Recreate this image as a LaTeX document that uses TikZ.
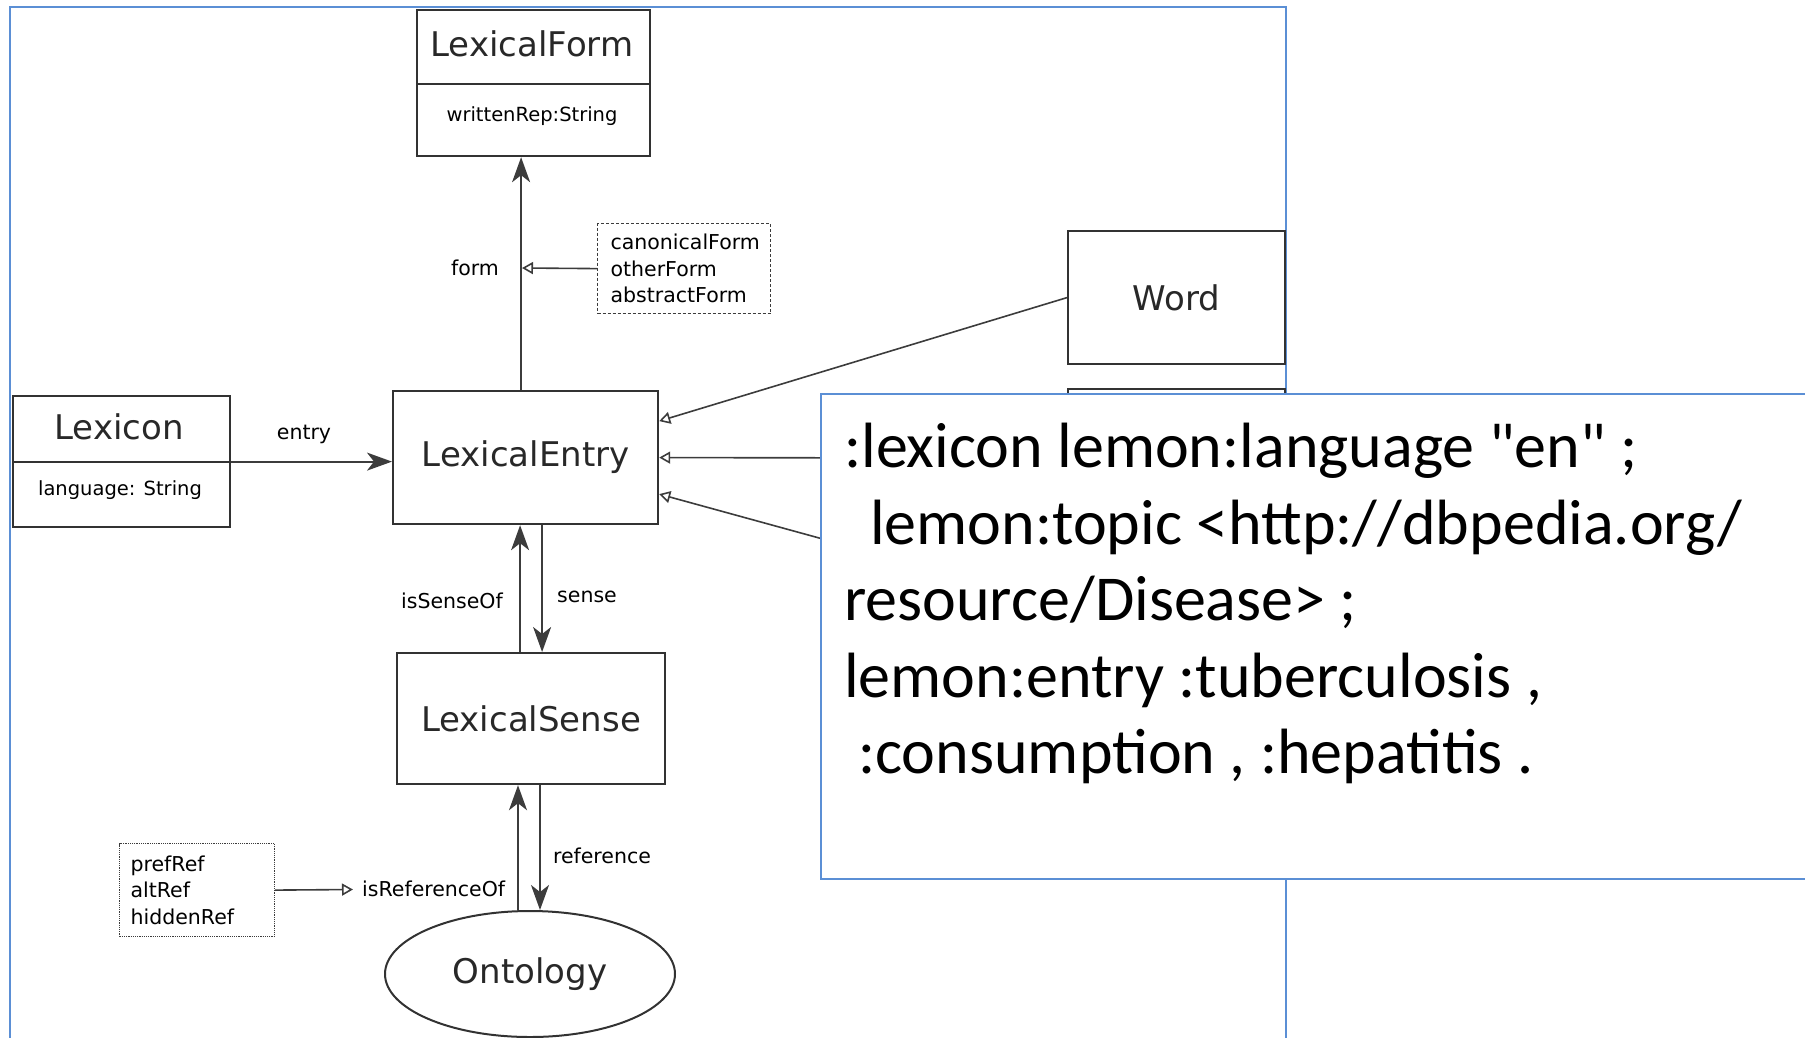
\documentclass[tikz,border=0pt]{standalone}
\usepackage{fontspec}
\setmainfont{DejaVu Sans}
\newfontfamily\calloutfont{Carlito}
\usetikzlibrary{arrows.meta,shapes.geometric}

\definecolor{frameblue}{RGB}{91,143,213}
\definecolor{boxgray}{RGB}{50,50,50}
\definecolor{linegray}{RGB}{60,60,60}
\definecolor{labelgray}{RGB}{40,40,40}

\tikzset{
  bigtext/.style={font=\fontsize{34}{40}\selectfont, text=labelgray},
  smalltext/.style={font=\fontsize{20.5}{26.5}\selectfont, inner sep=0pt},
  attrtext/.style={font=\fontsize{19.5}{24}\selectfont, inner sep=0pt},
  classbox/.style={draw=boxgray, line width=2.2pt, fill=white, anchor=north west, inner sep=0pt, bigtext},
  setbox/.style={draw=linegray, line width=1.2pt, anchor=north west, align=left, smalltext, inner ysep=0pt},
  solidarr/.style={draw=linegray, line width=1.8pt, -{Stealth[length=25pt,width=18pt,inset=7pt]}},
  opentri/.style={draw=linegray, line width=1.6pt, -{Triangle[open,length=11pt,width=12pt]}},
  calloutline/.style={font=\calloutfont\fontsize{64}{77}\selectfont, anchor=base west, inner sep=0pt},
}

\begin{document}
\begin{tikzpicture}[x=1pt,y=-1pt]
\useasboundingbox (0,0) rectangle (1805,1037);

% outer slide frame
\draw[frameblue, line width=2pt] (10,1060) -- (10,7) -- (1286,7) -- (1286,1060);

% classes
\node[classbox, minimum width=233pt, minimum height=146pt] (lform) at (416,9) {};
\draw[boxgray, line width=2.2pt] (lform.north west) ++(0,75) -- ++(233,0);
\node[bigtext] (lformname) at (532,44) {LexicalForm};
\node[attrtext] (lformattr) at (532,116) {writtenRep:String};

\node[classbox, minimum width=217pt, minimum height=131pt] (lexicon) at (12,395) {};
\node[bigtext] (lexiconname) at (119,427) {Lexicon};
\node[attrtext] (lexiconattr) at (120,490) {language: String};

\node[classbox, minimum width=265pt, minimum height=133pt] (lentry) at (392,390) {LexicalEntry};
\node[classbox, minimum width=268pt, minimum height=131pt] (lsense) at (396,652) {LexicalSense};
\node[classbox, minimum width=217pt, minimum height=133pt] (word) at (1067,230) {Word};
\node[classbox, minimum width=217pt, minimum height=138pt] (subclass2) at (1067,388) {};
\coordinate (subclass3) at (1067,606);

\node[draw=boxgray, line width=2pt, ellipse, minimum width=290pt, minimum height=126pt, bigtext, inner sep=0pt] (onto) at (530,974) {Ontology};

% property groups
\node[setbox, dashed, dash pattern=on 3pt off 2pt, minimum width=173pt, minimum height=90pt, text width=147pt, inner xsep=13pt] (formset) at (597,223)
  {canonicalForm\\otherForm\\abstractForm};
\node[setbox, densely dotted, minimum width=155pt, minimum height=93pt, text width=133pt, inner xsep=11pt] (refset) at (119,843)
  {prefRef\\altRef\\hiddenRef};

% connectors
\draw[solidarr] ([xshift=-4.5pt]lentry.north) -- ([xshift=-12.5pt]lform.south);
\coordinate (formjoin) at (522,268);
\draw[opentri] (formset.west) -- (formjoin);
\node[smalltext] (formlbl) at (475,268) {form};

\draw[solidarr] (lexicon.east) -- (lexicon.east -| lentry.west);
\draw[boxgray, line width=2.2pt] (lexicon.west) -- (lexicon.east);
\node[smalltext] (entrylbl) at (304,434) {entry};

\draw[opentri] (word.west) -- ([yshift=36.5pt]lentry.east);
\draw[opentri] (subclass2.west) -- (lentry.east);
\draw[opentri] (subclass3) -- ([yshift=-36.5pt]lentry.east);

\draw[solidarr] ([xshift=-11pt]lsense.north) -- ([xshift=-11pt]lsense.north |- lentry.south);
\draw[solidarr] ([xshift=11pt]lsense.north |- lentry.south) -- ([xshift=11pt]lsense.north);
\node[smalltext] (senseoflbl) at (452,601) {isSenseOf};
\node[smalltext] (senselbl) at (587,597) {sense};

\draw[solidarr] ([xshift=-12pt]onto.north) -- ([xshift=-12pt]onto.north |- lsense.south);
\draw[solidarr] ([xshift=10pt]onto.north |- lsense.south) -- ([xshift=10pt]onto.north);
\node[smalltext] (reflbl) at (602,856) {reference};
\node[smalltext, anchor=west] (refoflbl) at (362,889) {isReferenceOf};
\coordinate (refjoin) at (353,889.5);
\draw[opentri] (refset.east) -- (refjoin);

% example callout
\node[draw=frameblue, line width=2pt, fill=white, anchor=north west, minimum width=1010pt, minimum height=485pt, inner sep=0pt] (callout) at (820,393) {};
\node[calloutline] (cl1) at (844,467) {:lexicon lemon:language "en" ;};
\node[calloutline] (cl2) at (870,544) {lemon:topic <http://dbpedia.org/};
\node[calloutline] (cl3) at (844,620) {resource/Disease> ;};
\node[calloutline] (cl4) at (844,697) {lemon:entry :tuberculosis ,};
\node[calloutline] (cl5) at (858,773) {:consumption , :hepatitis .};
\end{tikzpicture}
\end{document}
